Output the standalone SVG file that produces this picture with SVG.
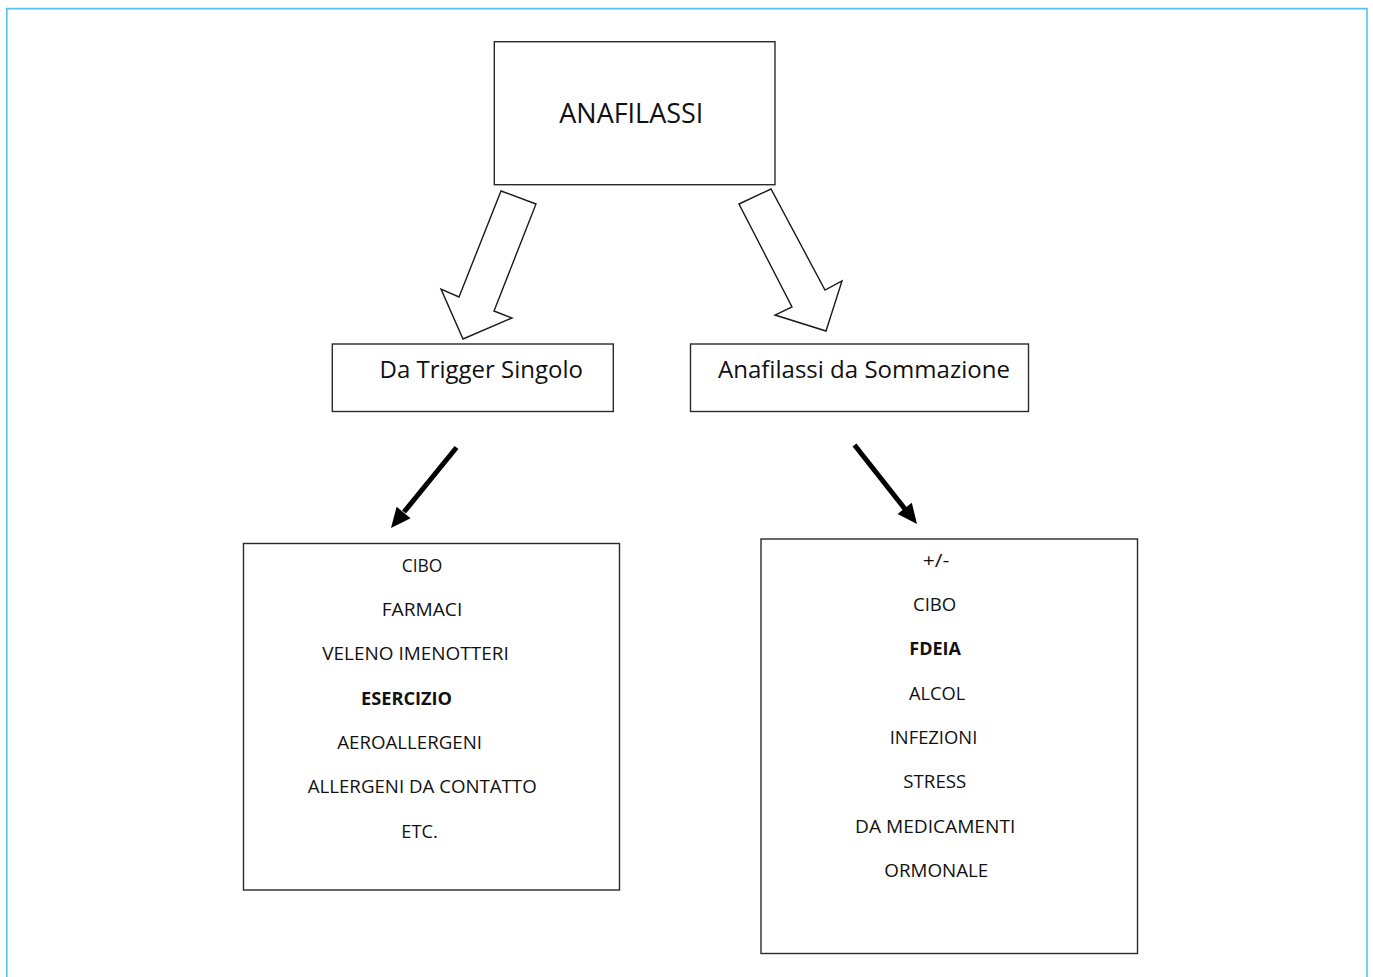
<svg xmlns="http://www.w3.org/2000/svg" width="1373" height="977" viewBox="0 0 1373 977">
<style>
.box{fill:#fff;stroke:#2a2a2a;stroke-width:1.4}
.blk{fill:#fff;stroke:#1a1a1a;stroke-width:1.4;stroke-linejoin:miter}
.t{font-family:"Open Sans","Noto Sans",sans-serif;fill:#111}
.l{font-size:17.4px}
.b{font-weight:bold}
.shaft{stroke:#000;stroke-width:5;fill:none}
.head{fill:#000}
</style>
<rect width="1373" height="977" fill="#fff"/>
<path d="M6.8,977 V8.6 H1367 V977" fill="none" stroke="#55c3ef" stroke-width="1.6"/>

<g id="node-anafilassi">
<rect class="box" x="494.3" y="41.7" width="280.7" height="143"/>
<text class="t" x="559.3" y="123.3" font-size="26.5px" textLength="144" lengthAdjust="spacingAndGlyphs">ANAFILASSI</text>
</g>

<g id="node-trigger">
<rect class="box" x="332.3" y="344" width="281" height="67.5"/>
<text class="t" x="379.5" y="378.3" font-size="23px" textLength="203.5" lengthAdjust="spacingAndGlyphs">Da Trigger Singolo</text>
</g>

<g id="node-sommazione">
<rect class="box" x="690.5" y="344" width="338" height="67.5"/>
<text class="t" x="718" y="378.3" font-size="23px" textLength="292" lengthAdjust="spacingAndGlyphs">Anafilassi da Sommazione</text>
</g>

<g id="node-list-left">
<rect class="box" x="243.5" y="543.5" width="376" height="346.5"/>
<text class="t l" x="401.7" y="571.7" textLength="40.6" lengthAdjust="spacingAndGlyphs">CIBO</text>
<text class="t l" x="381.7" y="616" textLength="80.6" lengthAdjust="spacingAndGlyphs">FARMACI</text>
<text class="t l" x="322.3" y="660.3" textLength="186.4" lengthAdjust="spacingAndGlyphs">VELENO IMENOTTERI</text>
<text class="t l b" x="361" y="704.6" textLength="91" lengthAdjust="spacingAndGlyphs">ESERCIZIO</text>
<text class="t l" x="337.3" y="748.9" textLength="144.7" lengthAdjust="spacingAndGlyphs">AEROALLERGENI</text>
<text class="t l" x="307.7" y="793.2" textLength="229" lengthAdjust="spacingAndGlyphs">ALLERGENI DA CONTATTO</text>
<text class="t l" x="401.3" y="837.5" textLength="36.4" lengthAdjust="spacingAndGlyphs">ETC.</text>
</g>

<g id="node-list-right">
<rect class="box" x="761" y="539" width="376.5" height="414.5"/>
<text class="t l" x="922.7" y="566.7" textLength="26.6" lengthAdjust="spacingAndGlyphs">+/-</text>
<text class="t l" x="913" y="611" textLength="43.3" lengthAdjust="spacingAndGlyphs">CIBO</text>
<text class="t l b" x="909.3" y="655.3" textLength="51.7" lengthAdjust="spacingAndGlyphs">FDEIA</text>
<text class="t l" x="909" y="699.6" textLength="56.3" lengthAdjust="spacingAndGlyphs">ALCOL</text>
<text class="t l" x="889.7" y="743.9" textLength="87.6" lengthAdjust="spacingAndGlyphs">INFEZIONI</text>
<text class="t l" x="903.3" y="788.2" textLength="63" lengthAdjust="spacingAndGlyphs">STRESS</text>
<text class="t l" x="855" y="832.5" textLength="160.3" lengthAdjust="spacingAndGlyphs">DA MEDICAMENTI</text>
<text class="t l" x="884.3" y="876.8" textLength="104" lengthAdjust="spacingAndGlyphs">ORMONALE</text>
</g>

<g id="connectors">
<polygon class="blk" points="501,191 536,204 494,311 512,318 463,339 441,289 459,297"/>
<polygon class="blk" points="739,204 771,189 825,290 842,281 826,331 775,315 792,307"/>
<path class="shaft" d="M456.5,447.5 L404,512"/>
<polygon class="head" points="391,528 410.6,518.2 396.6,506.8"/>
<path class="shaft" d="M854.5,445 L905,509"/>
<polygon class="head" points="917,524 911.8,502.7 897.6,513.9"/>
</g>
</svg>
